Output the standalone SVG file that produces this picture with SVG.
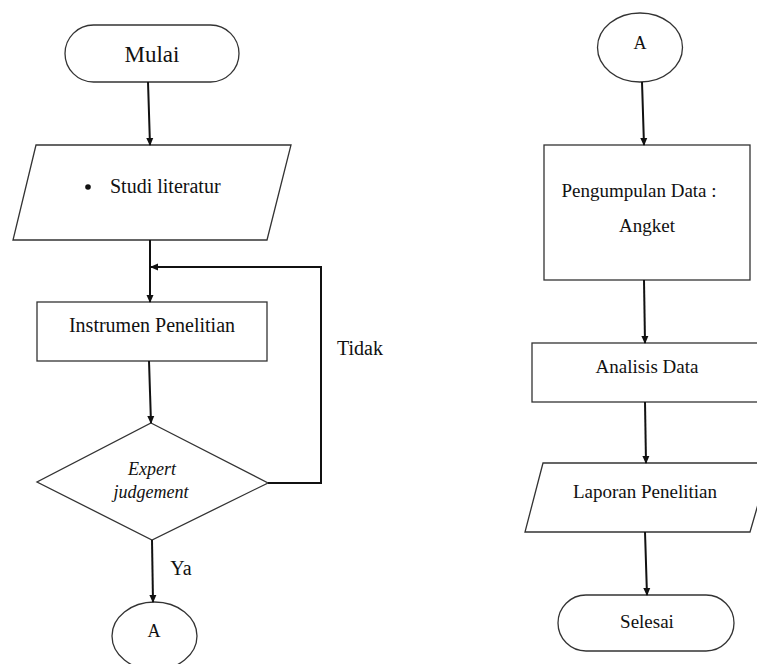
<svg xmlns="http://www.w3.org/2000/svg" width="757" height="664" viewBox="0 0 757 664">
<style>
.s{fill:#fff;stroke:#333;stroke-width:1.3}
.t{font-family:"Liberation Serif","Times New Roman",serif;fill:#111;text-anchor:middle}
.l{text-anchor:start}
.c{fill:none;stroke:#111;stroke-width:2}
</style>
<defs>
<marker id="ah" markerWidth="8" markerHeight="8" refX="7" refY="4" orient="auto" markerUnits="userSpaceOnUse">
<path d="M0,0.5 L8,4 L0,7.5 Z" fill="#111"/>
</marker>
</defs>
<rect width="757" height="664" fill="#fff"/>
<g id="mulai">
<rect class="s" x="65" y="25" width="174" height="57" rx="28.5"/>
<text class="t" x="152" y="62" font-size="23">Mulai</text>
</g>
<g id="studi">
<polygon class="s" points="36,145 291,145 267,240 13,240"/>
<circle cx="88" cy="187" r="2.8" fill="#111"/>
<text class="t l" x="110" y="193" font-size="20">Studi literatur</text>
</g>
<g id="instrumen">
<rect class="s" x="37" y="302" width="230" height="59"/>
<text class="t" x="152" y="332" font-size="20">Instrumen Penelitian</text>
</g>
<g id="expert">
<polygon class="s" points="151,423 268,483 152,540 37,482"/>
<text class="t" x="152" y="475" font-size="18" font-style="italic">Expert</text>
<text class="t" x="151" y="498" font-size="18" font-style="italic">judgement</text>
</g>
<g id="a1">
<ellipse class="s" cx="154.5" cy="636" rx="42.5" ry="34"/>
<text class="t" x="154" y="637" font-size="18">A</text>
</g>
<g id="a2">
<ellipse class="s" cx="640" cy="47.5" rx="42.5" ry="34.5"/>
<text class="t" x="640" y="49" font-size="18">A</text>
</g>
<g id="pengumpulan">
<rect class="s" x="544" y="145" width="206" height="135"/>
<text class="t" x="639" y="197" font-size="19">Pengumpulan Data :</text>
<text class="t" x="647" y="232" font-size="19">Angket</text>
</g>
<g id="analisis">
<rect class="s" x="532" y="343" width="240" height="59"/>
<text class="t" x="647" y="373" font-size="19">Analisis Data</text>
</g>
<g id="laporan">
<polygon class="s" points="543,463 770,463 750,532 525,532"/>
<text class="t" x="645" y="498" font-size="19">Laporan Penelitian</text>
</g>
<g id="selesai">
<rect class="s" x="558" y="595" width="176" height="56" rx="28"/>
<text class="t" x="647" y="628" font-size="19">Selesai</text>
</g>
<g id="connectors">
<line class="c" x1="148" y1="82" x2="150" y2="145" marker-end="url(#ah)"/>
<line class="c" x1="150" y1="240" x2="150" y2="302" marker-end="url(#ah)"/>
<polyline class="c" points="268,483 321,483 321,267 151,267" marker-end="url(#ah)"/>
<line class="c" x1="149" y1="361" x2="151" y2="423" marker-end="url(#ah)"/>
<line class="c" x1="152" y1="540" x2="153" y2="602" marker-end="url(#ah)"/>
<line class="c" x1="642" y1="82" x2="644" y2="145" marker-end="url(#ah)"/>
<line class="c" x1="644" y1="280" x2="645" y2="343" marker-end="url(#ah)"/>
<line class="c" x1="645" y1="402" x2="646" y2="463" marker-end="url(#ah)"/>
<line class="c" x1="645" y1="532" x2="647" y2="595" marker-end="url(#ah)"/>
<text class="t" x="181" y="575" font-size="20">Ya</text>
<text class="t" x="360" y="355" font-size="20">Tidak</text>
</g>
</svg>
